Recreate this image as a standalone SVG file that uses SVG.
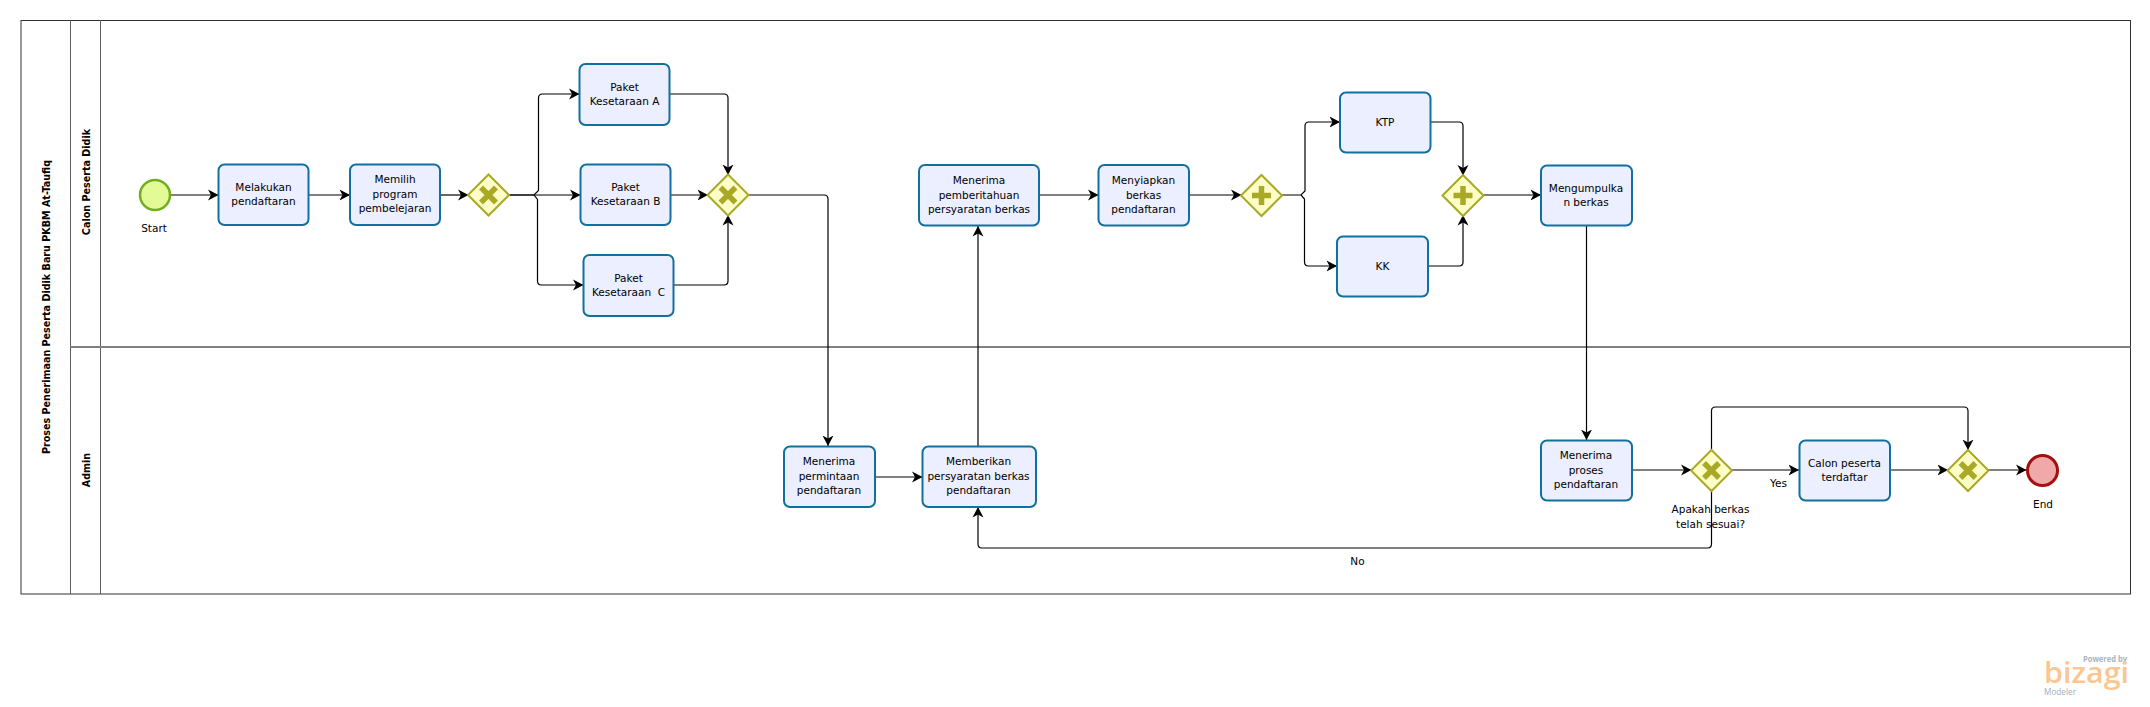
<svg xmlns="http://www.w3.org/2000/svg" width="2150" height="707" viewBox="0 0 2150 707">
<style>
.lane{fill:none;stroke:#5f5f5f;stroke-width:1}
.div{stroke:#808080;stroke-width:2}
.t{font-family:"DejaVu Sans",Verdana,sans-serif;font-size:10.5px;fill:#000;text-anchor:middle}
.h{font-family:"DejaVu Sans",Verdana,sans-serif;font-size:9.6px;font-weight:bold;fill:#000;text-anchor:middle}
.task{fill:#ebefff;stroke:#12709f;stroke-width:2}
.gw{fill:#fdfdc8;stroke:#a9a925;stroke-width:2}
.mark{fill:none;stroke:#a9a925;stroke-width:5.5}
.f{fill:none;stroke:#000;stroke-width:1.2;marker-end:url(#a)}
</style>
<defs>
<marker id="a" markerUnits="userSpaceOnUse" markerWidth="11" markerHeight="12" refX="10.500" refY="6" orient="auto"><path d="M0,0.500 L10.500,6 L0,11.500 L3,6 Z" fill="#000"/></marker>
</defs>
<rect width="2150" height="707" fill="#fff"/>
<g id="pool">
<rect x="21" y="20.500" width="2109.500" height="573.500" fill="#fff" stroke="#333" stroke-width="1"/>
<path class="lane" d="M70.500,20.500V594M100.500,20.500V594"/>
<path class="div" d="M70.500,347H2130.500"/>
<text class="h" transform="translate(50,307) rotate(-90)">Proses Penerimaan Peserta Didik Baru PKBM At-Taufiq</text>
<text class="h" transform="translate(89.500,182) rotate(-90)">Calon Peserta Didik</text>
<text class="h" transform="translate(89.500,470) rotate(-90)">Admin</text>
</g>
<g id="connectors">
<path class="f" d="M170,195H218.500"/>
<path class="f" d="M308.500,195H350"/>
<path class="f" d="M440,195H468.500"/>
<path class="f" d="M508.500,195H534L538.500,190.500V98Q538.500,94 542.500,94H579.500"/>
<path class="f" d="M508.500,195H580.500"/>
<path class="f" d="M534,195L537.500,199.500V281Q537.500,285 541.500,285H583.500"/>
<path class="f" d="M669.500,94H724Q728,94 728,98V175"/>
<path class="f" d="M670.500,195H708"/>
<path class="f" d="M673.500,285H724Q728,285 728,281V215"/>
<path class="f" d="M748,195H824Q828,195 828,199V446"/>
<path class="f" d="M875,477H922.500"/>
<path class="f" d="M978,446V226"/>
<path class="f" d="M1039,195H1098.500"/>
<path class="f" d="M1189,195H1241.500"/>
<path class="f" d="M1281.500,195H1301L1305,191V126Q1305,122 1309,122H1340"/>
<path class="f" d="M1301,195L1304.500,199V262Q1304.500,266 1308.500,266H1337"/>
<path class="f" d="M1430.500,122H1459Q1463,122 1463,126V175.500"/>
<path class="f" d="M1428,266H1459Q1463,266 1463,262V215"/>
<path class="f" d="M1483,195H1541"/>
<path class="f" d="M1586.500,226V440"/>
<path class="f" d="M1632,470H1691.500"/>
<path class="f" d="M1731.500,470H1799"/>
<path class="f" d="M1711.500,490V544Q1711.500,548 1707.500,548H982Q978,548 978,544V507"/>
<path class="f" d="M1711.500,450V411Q1711.500,407 1715.500,407H1964Q1968,407 1968,411V450"/>
<path class="f" d="M1890,470H1948"/>
<path class="f" d="M1988,470H2026.500"/>
</g>
<g id="start"><circle cx="155" cy="195" r="15" fill="#e2fb96" stroke="#72ad1f" stroke-width="2.500"/><text class="t" x="154" y="232">Start</text></g>
<g id="melakukan"><rect class="task" x="218.500" y="164.500" width="90" height="60.500" rx="6"/><text class="t" x="263.500" y="191">Melakukan</text><text class="t" x="263.500" y="205">pendaftaran</text></g>
<g id="memilih"><rect class="task" x="350" y="164.500" width="90" height="60.500" rx="6"/><text class="t" x="395" y="183">Memilih</text><text class="t" x="395" y="198">program</text><text class="t" x="395" y="212">pembelejaran</text></g>
<g id="gw1"><path class="gw" d="M488.500,174.500L509,195L488.500,215.500L468,195Z"/><path class="mark" d="M481,187.500L496,202.500M496,187.500L481,202.500"/></g>
<g id="paketa"><rect class="task" x="579.500" y="64" width="90" height="61" rx="6"/><text class="t" x="624.500" y="91">Paket</text><text class="t" x="624.500" y="105">Kesetaraan A</text></g>
<g id="paketb"><rect class="task" x="580.500" y="164.500" width="90" height="60.500" rx="6"/><text class="t" x="625.500" y="191">Paket</text><text class="t" x="625.500" y="205">Kesetaraan B</text></g>
<g id="paketc"><rect class="task" x="583.500" y="255" width="90" height="61" rx="6"/><text class="t" x="628.500" y="282">Paket</text><text class="t" x="628.500" y="296" xml:space="preserve">Kesetaraan  C</text></g>
<g id="gw2"><path class="gw" d="M728,174.500L748.500,195L728,215.500L707.500,195Z"/><path class="mark" d="M720.500,187.500L735.500,202.500M735.500,187.500L720.500,202.500"/></g>
<g id="terima1"><rect class="task" x="919" y="165" width="120" height="60.500" rx="6"/><text class="t" x="979" y="184">Menerima</text><text class="t" x="979" y="199">pemberitahuan</text><text class="t" x="979" y="213">persyaratan berkas</text></g>
<g id="menyiapkan"><rect class="task" x="1098.500" y="165" width="90.500" height="60.500" rx="6"/><text class="t" x="1143.500" y="184">Menyiapkan</text><text class="t" x="1143.500" y="199">berkas</text><text class="t" x="1143.500" y="213">pendaftaran</text></g>
<g id="gw3"><path class="gw" d="M1261.500,175L1282,195.500L1261.500,216L1241,195.500Z"/><path class="mark" d="M1261.500,186V205M1252,195.500H1271"/></g>
<g id="ktp"><rect class="task" x="1340" y="92.500" width="90.500" height="60" rx="6"/><text class="t" x="1385" y="126">KTP</text></g>
<g id="kk"><rect class="task" x="1337" y="236.500" width="91" height="60" rx="6"/><text class="t" x="1382.500" y="270">KK</text></g>
<g id="gw4"><path class="gw" d="M1463,175L1483.500,195.500L1463,216L1442.500,195.500Z"/><path class="mark" d="M1463,186V205M1453.500,195.500H1472.500"/></g>
<g id="kumpul"><rect class="task" x="1541" y="165.500" width="91" height="60" rx="6"/><text class="t" x="1586" y="192">Mengumpulka</text><text class="t" x="1586" y="206">n berkas</text></g>
<g id="permintaan"><rect class="task" x="784" y="446.500" width="91" height="60.500" rx="6"/><text class="t" x="829" y="465">Menerima</text><text class="t" x="829" y="480">permintaan</text><text class="t" x="829" y="494">pendaftaran</text></g>
<g id="memberikan"><rect class="task" x="922.500" y="446.500" width="113.500" height="60.500" rx="6"/><text class="t" x="978.500" y="465">Memberikan</text><text class="t" x="978.500" y="480">persyaratan berkas</text><text class="t" x="978.500" y="494">pendaftaran</text></g>
<g id="proses"><rect class="task" x="1541" y="440.500" width="91" height="60" rx="6"/><text class="t" x="1586" y="459">Menerima</text><text class="t" x="1586" y="474">proses</text><text class="t" x="1586" y="488">pendaftaran</text></g>
<g id="gw5"><path class="gw" d="M1711.500,450L1732,470.500L1711.500,491L1691,470.500Z"/><path class="mark" d="M1704,463L1719,478M1719,463L1704,478"/><text class="t" x="1710.500" y="513">Apakah berkas</text><text class="t" x="1710.500" y="528">telah sesuai?</text></g>
<g id="calon"><rect class="task" x="1799.500" y="440.500" width="90.500" height="60" rx="6"/><text class="t" x="1844.500" y="467">Calon peserta</text><text class="t" x="1844.500" y="481">terdaftar</text></g>
<g id="gw6"><path class="gw" d="M1968,450L1988.500,470.500L1968,491L1947.500,470.500Z"/><path class="mark" d="M1960.500,463L1975.500,478M1975.500,463L1960.500,478"/></g>
<g id="end"><circle cx="2042.500" cy="470.500" r="15" fill="#f0a8a8" stroke="#a50f0f" stroke-width="3"/><text class="t" x="2043" y="508">End</text></g>
<g id="labels"><text class="t" x="1778.500" y="487">Yes</text><text class="t" x="1357.500" y="565">No</text></g>
<g id="logo">
<text x="2083" y="662" font-family="'Open Sans',sans-serif" font-size="8.500" font-weight="700" fill="#aab4bc" textLength="44" lengthAdjust="spacingAndGlyphs">Powered by</text>
<text x="2044" y="683" font-family="'Open Sans',sans-serif" font-size="29" font-weight="600" fill="#fbc692" textLength="85" lengthAdjust="spacingAndGlyphs">bizagi</text>
<text x="2044" y="695" font-family="'Open Sans',sans-serif" font-size="9.500" fill="#a3afb8" textLength="32" lengthAdjust="spacingAndGlyphs">Modeler</text>
</g>
</svg>
